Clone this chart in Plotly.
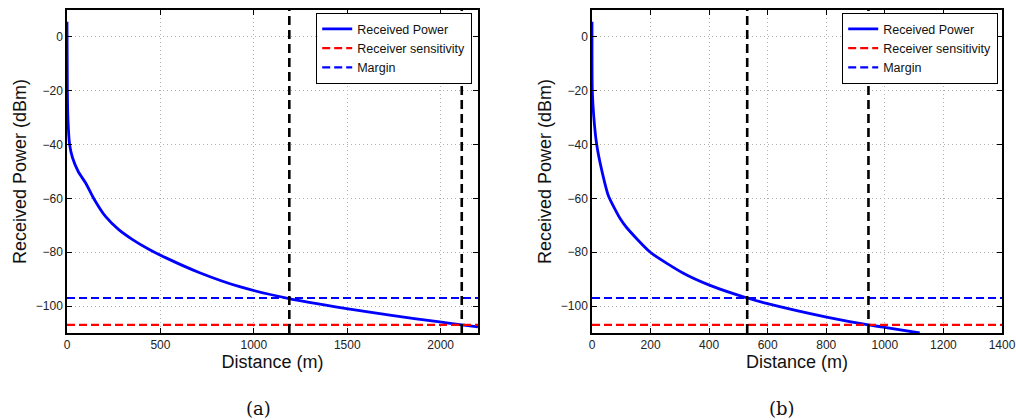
import plotly.graph_objects as go

# ---- data ----
dist_a = [0, 2, 5, 14, 30, 60, 100, 143, 206, 277, 349, 438, 527, 710, 924, 1188, 1496, 1728, 1995, 2113, 2200]
power_a = [5.6, -20, -30.5, -40, -45, -50, -54.3, -60, -66.7, -71.6, -75.2, -78.9, -82.0, -87.6, -92.8, -97.2, -100.9, -103.4, -105.9, -107.0, -107.7]

dist_b = [0, 1, 6, 16, 33, 56, 96, 118, 198, 312, 403, 530, 596, 801, 944, 994, 1119]
power_b = [5.6, -20, -29.5, -40, -49.4, -59, -67.5, -70.8, -79.9, -87.8, -92.3, -97, -99.0, -104.1, -107, -107.8, -110]

sensitivity = -107
margin = -97
vlines_a = [1190, 2113]
vlines_b = [530, 944]
xrange_a = [0, 2200]
xrange_b = [0, 1400]
yrange = [-110, 10]
xticks_a = [0, 500, 1000, 1500, 2000]
xticks_b = [0, 200, 400, 600, 800, 1000, 1200, 1400]
yticks = [0, -20, -40, -60, -80, -100]
captions = ["(a)", "(b)"]

fig = go.Figure()

BLUE = "#0000ff"
RED = "#ff0000"

panels = [
    ("x", "y", "legend", dist_a, power_a, vlines_a, xrange_a),
    ("x2", "y2", "legend2", dist_b, power_b, vlines_b, xrange_b),
]

for xa, ya, lg, d, p, vls, xr in panels:
    fig.add_trace(go.Scatter(x=d, y=p, mode="lines", name="Received Power",
                             line=dict(color=BLUE, width=2.8, shape="spline", smoothing=0.6),
                             xaxis=xa, yaxis=ya, legend=lg))
    fig.add_trace(go.Scatter(x=xr, y=[sensitivity, sensitivity], mode="lines",
                             name="Receiver sensitivity",
                             line=dict(color=RED, width=2.2, dash="8px,4px"),
                             xaxis=xa, yaxis=ya, legend=lg))
    fig.add_trace(go.Scatter(x=xr, y=[margin, margin], mode="lines", name="Margin",
                             line=dict(color=BLUE, width=2.2, dash="8px,4px"),
                             xaxis=xa, yaxis=ya, legend=lg))
    for v in vls:
        fig.add_trace(go.Scatter(x=[v, v], y=yrange, mode="lines", showlegend=False,
                                 line=dict(color="black", width=2.6, dash="9px,5px"),
                                 xaxis=xa, yaxis=ya, hoverinfo="skip"))

tickfont = dict(family="Liberation Sans, Arial, sans-serif", size=12, color="#222")
titlefont = dict(family="Liberation Sans, Arial, sans-serif", size=18, color="#111")

def xax(domain, rng, ticks, anchor):
    return dict(domain=domain, range=rng, tickvals=ticks, anchor=anchor,
                automargin=False,
                showline=True, linecolor="black", linewidth=1.5, mirror="allticks",
                ticks="inside", ticklen=5, tickcolor="black",
                showgrid=True, gridcolor="#b0b0b0", griddash="1px,3px", gridwidth=1,
                zeroline=False, tickfont=tickfont,
                title=dict(text="Distance (m)", font=titlefont, standoff=3))

def yax(domain, anchor):
    return dict(domain=domain, range=yrange, tickvals=yticks, anchor=anchor,
                automargin=False,
                showline=True, linecolor="black", linewidth=1.5, mirror="allticks",
                ticks="inside", ticklen=5, tickcolor="black",
                showgrid=True, gridcolor="#b0b0b0", griddash="1px,3px", gridwidth=1,
                zeroline=False, tickfont=tickfont,
                title=dict(text="Received Power (dBm)", font=titlefont, standoff=5))

W, H = 1016, 420
ydom = [1 - 333 / H, 1 - 10 / H]
legfont = dict(family="Liberation Sans, Arial, sans-serif", size=12.5, color="#111")

fig.update_layout(
    width=W, height=H,
    margin=dict(l=0, r=0, t=0, b=0, autoexpand=False),
    paper_bgcolor="white", plot_bgcolor="white",
    xaxis=xax([67 / W, 478 / W], xrange_a, xticks_a, "y"),
    yaxis=yax(ydom, "x"),
    xaxis2=xax([592 / W, 1002 / W], xrange_b, xticks_b, "y2"),
    yaxis2=yax(ydom, "x2"),
    legend=dict(x=472 / W, y=1 - 13 / H, xanchor="right", yanchor="top",
                bgcolor="white", bordercolor="black", borderwidth=1.2,
                font=legfont, tracegroupgap=0, itemwidth=30),
    legend2=dict(x=998 / W, y=1 - 13 / H, xanchor="right", yanchor="top",
                 bgcolor="white", bordercolor="black", borderwidth=1.2,
                 font=legfont, tracegroupgap=0, itemwidth=30),
    showlegend=True,
)

capfont = dict(family="DejaVu Serif, serif", size=18, color="#111")
for cx, text in zip([258, 782], captions):
    fig.add_annotation(x=cx / W, y=1 - 408 / H, xref="paper", yref="paper",
                       text=text, showarrow=False, font=capfont,
                       xanchor="center", yanchor="middle")

fig.write_html("out.html", config={"displayModeBar": False},
               post_script="document.body.style.margin='0';document.body.style.padding='0';")
